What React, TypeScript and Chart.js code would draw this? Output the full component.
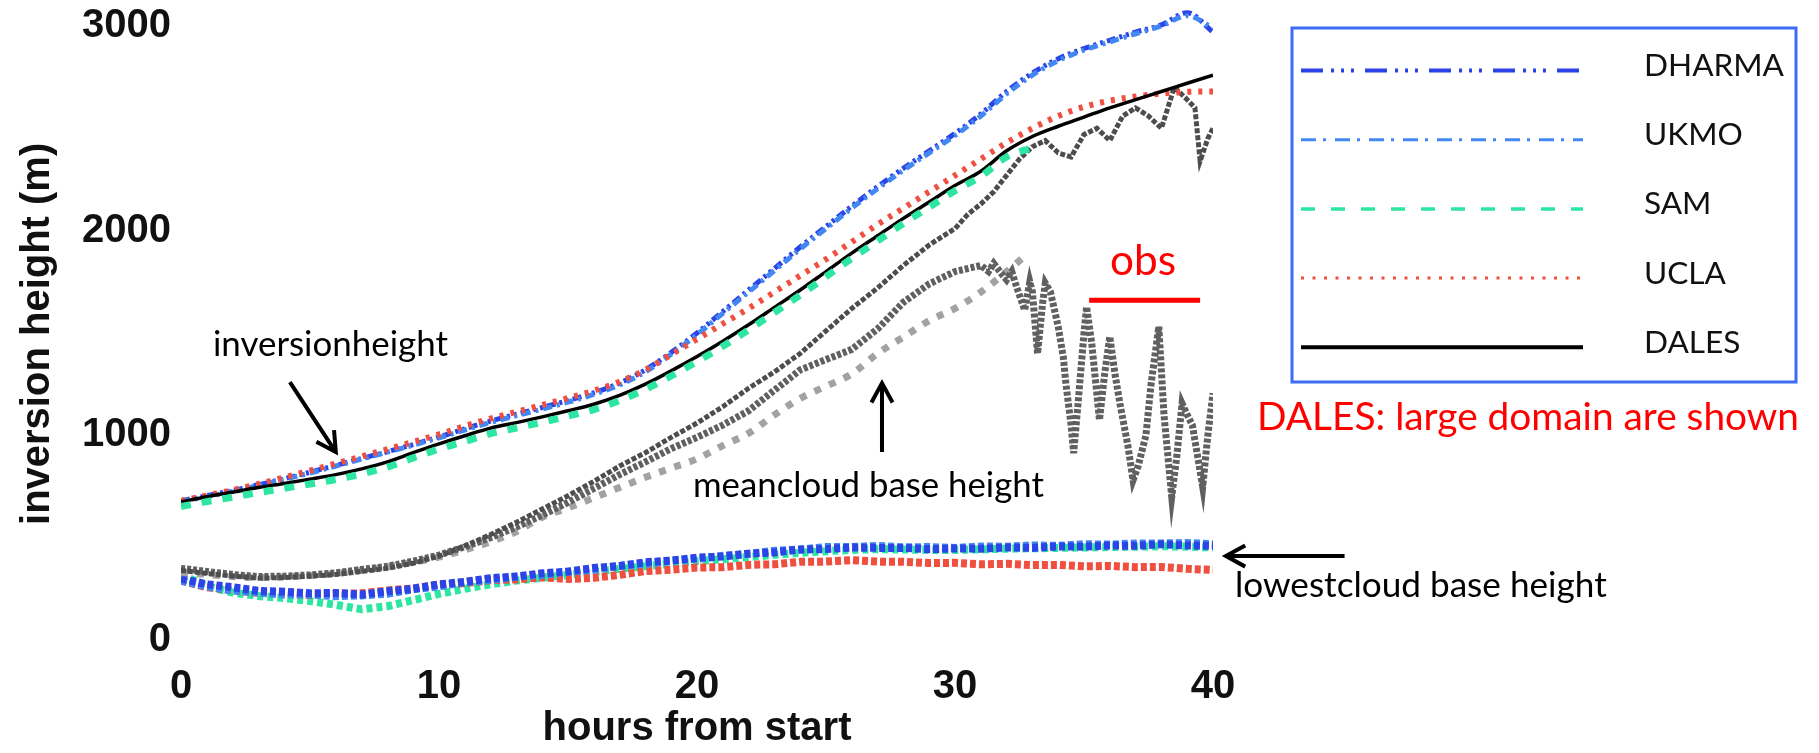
import React, { useEffect, useRef } from "react";
import { Chart, registerables } from "chart.js";

Chart.register(...registerables);

// ---------------- data ----------------
const HOURS = [0, 1, 2, 3, 4, 5, 6, 7, 8, 9, 10, 11, 12, 13, 14, 15, 16, 17, 18, 19, 20, 21, 22, 23, 24, 25, 26, 27, 28, 29, 30, 31, 32, 33, 34, 35, 36, 37, 38, 39, 40];
const X_TICKS = [0, 10, 20, 30, 40];
const Y_TICKS = [0, 1000, 2000, 3000];
const MODELS = ["DHARMA", "UKMO", "SAM", "UCLA", "DALES"];

// inversion height (m)
const INV_DHARMA = [680, 705, 730, 758, 788, 820, 853, 887, 920, 955, 992, 1032, 1070, 1103, 1136, 1170, 1208, 1255, 1320, 1405, 1500, 1605, 1710, 1815, 1920, 2020, 2120, 2215, 2305, 2390, 2475, 2570, 2680, 2770, 2840, 2890, 2930, 2970, 3005, 3065, 2970];
const INV_UKMO = [676, 700, 726, 755, 785, 816, 850, 884, 918, 952, 988, 1026, 1063, 1096, 1128, 1162, 1200, 1246, 1310, 1396, 1492, 1596, 1700, 1805, 1910, 2010, 2110, 2205, 2295, 2380, 2465, 2560, 2668, 2760, 2830, 2882, 2922, 2962, 3000, 3050, 2990];
const INV_SAM = [652, 676, 698, 720, 741, 762, 784, 811, 845, 890, 933, 970, 1008, 1036, 1064, 1094, 1126, 1170, 1225, 1290, 1360, 1435, 1515, 1600, 1685, 1775, 1865, 1950, 2035, 2115, 2195, 2265, 2360, 2405];
const INV_UCLA = [680, 706, 732, 762, 794, 828, 862, 897, 932, 968, 1005, 1045, 1082, 1115, 1148, 1182, 1218, 1262, 1320, 1395, 1470, 1545, 1620, 1700, 1780, 1860, 1945, 2030, 2110, 2190, 2270, 2350, 2430, 2500, 2560, 2605, 2635, 2655, 2670, 2678, 2680];
const INV_DALES = [675, 700, 722, 745, 765, 786, 808, 836, 870, 915, 958, 998, 1035, 1062, 1090, 1120, 1152, 1195, 1250, 1315, 1385, 1460, 1540, 1625, 1710, 1800, 1890, 1975, 2060, 2140, 2220, 2290, 2390, 2460, 2510, 2555, 2600, 2640, 2680, 2720, 2760];

// lowest cloud base height (m)
const LCB_DHARMA = [300, 272, 258, 240, 236, 228, 230, 222, 238, 250, 272, 284, 302, 310, 326, 334, 352, 362, 380, 388, 402, 408, 422, 428, 442, 444, 452, 450, 450, 444, 447, 446, 452, 450, 457, 456, 462, 460, 468, 462, 460];
const LCB_UKMO = [290, 262, 242, 232, 222, 222, 214, 218, 226, 248, 262, 282, 294, 310, 318, 334, 344, 362, 372, 388, 396, 412, 420, 436, 442, 454, 454, 460, 453, 454, 450, 457, 456, 462, 460, 468, 466, 472, 472, 474, 468];
const LCB_SAM = [320, 262, 232, 215, 205, 190, 172, 150, 165, 195, 225, 250, 272, 290, 304, 318, 333, 348, 360, 373, 385, 395, 405, 416, 426, 434, 440, 444, 442, 440, 440, 443, 446, 448, 450, 452, 454, 456, 458, 456, 452];
const LCB_UCLA = [290, 258, 244, 230, 228, 220, 226, 228, 242, 252, 270, 278, 292, 296, 306, 298, 304, 318, 337, 343, 354, 356, 367, 370, 382, 383, 390, 383, 382, 376, 377, 370, 372, 366, 367, 360, 362, 356, 357, 348, 342];

// mean cloud base height, DALES (m)
const MCB_A_HOURS = [0, 1, 2, 3, 4, 5, 6, 7, 8, 9, 10, 11, 12, 13, 14, 15, 16, 17, 18, 19, 20, 21, 22, 23, 24, 25, 26, 27, 28, 29, 30, 30.5, 31, 31.5, 32, 32.5, 33, 33.5, 34, 34.5, 35, 35.5, 36, 36.5, 37, 37.5, 38, 38.5, 39, 39.3, 39.5, 39.8, 40];
const MCB_A = [340, 325, 312, 302, 305, 312, 320, 335, 350, 375, 410, 460, 515, 575, 640, 705, 775, 850, 915, 990, 1060, 1140, 1230, 1310, 1400, 1510, 1620, 1720, 1830, 1930, 2010, 2080, 2130, 2190, 2270, 2350, 2410, 2440, 2380, 2360, 2470, 2500, 2440, 2560, 2600, 2560, 2500, 2700, 2640, 2600, 2340, 2450, 2500];
const MCB_B_HOURS = [0, 1, 2, 3, 4, 5, 6, 7, 8, 9, 10, 11, 12, 13, 14, 15, 16, 17, 18, 19, 20, 21, 22, 23, 24, 25, 26, 27, 28, 29, 30, 31, 31.3, 31.5, 31.8, 32, 32.2, 32.4, 32.7, 32.9, 33, 33.2, 33.4, 33.5, 33.7, 34, 34.2, 34.3, 34.5, 34.6, 34.8, 35, 35.1, 35.3, 35.6, 35.8, 36, 36.2, 36.4, 36.7, 36.9, 37.1, 37.4, 37.6, 37.9, 38.1, 38.4, 38.6, 38.8, 39, 39.2, 39.4, 39.6, 39.8, 40];
const MCB_B = [350, 335, 320, 310, 312, 318, 328, 345, 360, 385, 415, 455, 500, 552, 610, 672, 740, 808, 870, 935, 990, 1050, 1120, 1220, 1320, 1370, 1420, 1520, 1650, 1740, 1800, 1830, 1800, 1840, 1790, 1760, 1800, 1720, 1612, 1750, 1700, 1400, 1650, 1743, 1700, 1531, 1380, 1250, 1050, 913, 1200, 1500, 1628, 1450, 1075, 1300, 1482, 1300, 1150, 950, 781, 850, 1000, 1250, 1531, 1100, 700, 900, 1156, 1100, 1050, 900, 748, 1000, 1206];
const MCB_C_HOURS = [0, 1, 2, 3, 4, 5, 6, 7, 8, 9, 10, 11, 12, 13, 14, 15, 16, 17, 18, 19, 20, 21, 22, 23, 24, 25, 26, 27, 28, 29, 30, 31, 32, 32.7];
const MCB_C = [330, 320, 310, 305, 308, 315, 325, 340, 358, 380, 405, 440, 480, 530, 600, 645, 695, 745, 795, 840, 885, 950, 1010, 1100, 1180, 1240, 1300, 1400, 1480, 1560, 1620, 1700, 1800, 1875];

// observation bar
const OBS_HOURS = [35.2, 39.5];
const OBS_VALUE = [1660, 1660];

// ---------------- styles ----------------
const STYLE: Record<string, any> = {
  DHARMA: { color: "#2B44E8", dash: [9, 4, 3, 4, 3, 4], width: 5, legendDash: [22, 8, 3, 7, 3, 7, 3, 11], legendWidth: 4 },
  UKMO: { color: "#4287F2", dash: [9, 5, 3, 5], width: 5, legendDash: [15, 7, 3, 9], legendWidth: 3 },
  SAM: { color: "#2DE6A2", dash: [10, 11], width: 7, legendDash: [14, 16], legendWidth: 3.5 },
  UCLA: { color: "#F04E3E", dash: [4, 7], width: 6, legendDash: [3, 8.5], legendWidth: 3 },
  DALES: { color: "#000000", dash: [], width: 3.5, legendDash: [], legendWidth: 4 },
};

const AXIS_FAMILY = "'Liberation Sans', Arial, Helvetica, sans-serif";
const TEXT_FAMILY = "Lato, 'Open Sans', sans-serif";

function pts(hours: number[], values: number[]) {
  return values.map((v, i) => ({ x: hours[i], y: v }));
}

function fitFont(ctx: CanvasRenderingContext2D, text: string, width: number) {
  ctx.font = `normal 100px ${TEXT_FAMILY}`;
  const w = ctx.measureText(text).width;
  const size = (100 * width) / w;
  ctx.font = `normal ${size}px ${TEXT_FAMILY}`;
  return size;
}

function arrow(ctx: CanvasRenderingContext2D, x1: number, y1: number, x2: number, y2: number) {
  const ang = Math.atan2(y2 - y1, x2 - x1);
  const head = 22;
  const spread = 0.5;
  ctx.beginPath();
  ctx.moveTo(x1, y1);
  ctx.lineTo(x2, y2);
  ctx.moveTo(x2 - head * Math.cos(ang - spread), y2 - head * Math.sin(ang - spread));
  ctx.lineTo(x2, y2);
  ctx.lineTo(x2 - head * Math.cos(ang + spread), y2 - head * Math.sin(ang + spread));
  ctx.stroke();
}

const NOTES = [
  { text: "inversionheight", x: 213, y: 356, w: 235, color: "#000000" },
  { text: "meancloud base height", x: 693, y: 497, w: 351, color: "#000000" },
  { text: "lowestcloud base height", x: 1235, y: 597, w: 372, color: "#000000" },
  { text: "obs", x: 1110, y: 275, w: 66, color: "#FF0000" },
  { text: "DALES: large domain are shown", x: 1257, y: 430, w: 542, color: "#FF0000" },
];

const ARROWS = [
  { from: [4.22, 1260], to: [6.0, 918] },
  { from: [27.17, 918], to: [27.17, 1255] },
  { from: [45.1, 410], to: [40.5, 410] },
];

const annotationPlugin = {
  id: "annotations",
  afterDraw(chart: any) {
    const ctx: CanvasRenderingContext2D = chart.ctx;
    const xs = chart.scales.x;
    const ys = chart.scales.y;
    ctx.save();

    // obs bar
    ctx.strokeStyle = "#FF0000";
    ctx.lineWidth = 5;
    ctx.setLineDash([]);
    ctx.beginPath();
    ctx.moveTo(xs.getPixelForValue(OBS_HOURS[0]), ys.getPixelForValue(OBS_VALUE[0]));
    ctx.lineTo(xs.getPixelForValue(OBS_HOURS[1]), ys.getPixelForValue(OBS_VALUE[1]));
    ctx.stroke();

    // arrows
    ctx.strokeStyle = "#000000";
    ctx.lineWidth = 4;
    ctx.lineCap = "butt";
    for (const a of ARROWS) {
      arrow(
        ctx,
        xs.getPixelForValue(a.from[0]),
        ys.getPixelForValue(a.from[1]),
        xs.getPixelForValue(a.to[0]),
        ys.getPixelForValue(a.to[1])
      );
    }

    // notes
    ctx.textBaseline = "alphabetic";
    ctx.textAlign = "left";
    for (const n of NOTES) {
      fitFont(ctx, n.text, n.w);
      ctx.fillStyle = n.color;
      ctx.fillText(n.text, n.x, n.y);
    }

    // legend box
    ctx.strokeStyle = "#3D6DF2";
    ctx.lineWidth = 3;
    ctx.strokeRect(1292, 28, 504, 354);
    const size = fitFont(ctx, "DHARMA", 140);
    MODELS.forEach((m, i) => {
      const base = 76 + i * 69.2;
      const st = STYLE[m];
      ctx.strokeStyle = st.color;
      ctx.lineWidth = st.legendWidth;
      ctx.setLineDash(st.legendDash);
      ctx.beginPath();
      ctx.moveTo(1301, base - 5.5);
      ctx.lineTo(1583, base - 5.5);
      ctx.stroke();
      ctx.setLineDash([]);
      ctx.font = `normal ${size}px ${TEXT_FAMILY}`;
      ctx.fillStyle = "#111111";
      ctx.fillText(m, 1644, base);
    });
    ctx.restore();
  },
};

export default function App() {
  const canvasRef = useRef<HTMLCanvasElement | null>(null);

  useEffect(() => {
    const canvas = canvasRef.current;
    if (!canvas) return;

    const line = (label: string, data: any[], color: string, width: number, dash: number[], smooth = false) => ({
      label,
      data,
      borderColor: color,
      backgroundColor: color,
      borderWidth: width,
      borderDash: dash,
      pointRadius: 0,
      fill: false,
      tension: smooth ? 0.4 : 0,
      cubicInterpolationMode: smooth ? "monotone" : "default",
    });

    const datasets = [
      line("SAM inversion", pts(HOURS, INV_SAM), STYLE.SAM.color, STYLE.SAM.width, STYLE.SAM.dash, true),
      line("DALES inversion", pts(HOURS, INV_DALES), STYLE.DALES.color, STYLE.DALES.width, STYLE.DALES.dash, true),
      line("UCLA inversion", pts(HOURS, INV_UCLA), STYLE.UCLA.color, STYLE.UCLA.width, STYLE.UCLA.dash, true),
      line("UKMO inversion", pts(HOURS, INV_UKMO), STYLE.UKMO.color, STYLE.UKMO.width, STYLE.UKMO.dash, true),
      line("DHARMA inversion", pts(HOURS, INV_DHARMA), STYLE.DHARMA.color, STYLE.DHARMA.width, STYLE.DHARMA.dash, true),
      line("DALES mean cloud base A", pts(MCB_A_HOURS, MCB_A), "#4d4d4d", 5, [5, 2]),
      line("DALES mean cloud base B", pts(MCB_B_HOURS, MCB_B), "#606060", 7, [4, 2]),
      line("DALES mean cloud base C", pts(MCB_C_HOURS, MCB_C), "#a2a2a2", 7, [7, 9], true),
      line("DHARMA lowest cloud base", pts(HOURS, LCB_DHARMA), STYLE.DHARMA.color, 8, [6, 3]),
      line("UKMO lowest cloud base", pts(HOURS, LCB_UKMO), STYLE.UKMO.color, 8, [6, 3]),
      line("UCLA lowest cloud base", pts(HOURS, LCB_UCLA), STYLE.UCLA.color, 8, [6, 3]),
      line("SAM lowest cloud base", pts(HOURS, LCB_SAM), STYLE.SAM.color, 8, [6, 4]),
    ];

    const axisFont = { family: AXIS_FAMILY, size: 40, weight: "bold" as const };

    const chart = new Chart(canvas, {
      type: "line",
      data: { datasets },
      options: {
        animation: false,
        responsive: true,
        maintainAspectRatio: false,
        devicePixelRatio: 1,
        layout: { padding: { top: 5.5, right: 606, bottom: 0, left: 0 } },
        plugins: { legend: { display: false }, tooltip: { enabled: false } },
        scales: {
          x: {
            type: "linear",
            min: 0,
            max: 40,
            grid: { display: false, drawTicks: false },
            border: { display: false },
            afterBuildTicks: (s: any) => {
              s.ticks = X_TICKS.map((v) => ({ value: v }));
            },
            afterFit: (s: any) => {
              s.height = 113;
              s.paddingLeft = 0;
              s.paddingRight = 0;
            },
            ticks: {
              font: axisFont,
              color: "#111111",
              padding: 23,
              maxRotation: 0,
              autoSkip: false,
              callback: (v: any) => String(v),
            },
            title: { display: true, text: "hours from start", font: axisFont, color: "#111111", padding: 0 },
          },
          y: {
            type: "linear",
            min: 0,
            max: 3100,
            grid: { display: false, drawTicks: false },
            border: { display: false },
            afterBuildTicks: (s: any) => {
              s.ticks = Y_TICKS.map((v) => ({ value: v }));
            },
            afterFit: (s: any) => {
              s.width = 181;
              s.paddingTop = 0;
              s.paddingBottom = 0;
            },
            ticks: {
              font: axisFont,
              color: "#111111",
              padding: 10,
              autoSkip: false,
              callback: (v: any) => String(v),
            },
            title: {
              display: true,
              text: "inversion height (m)  ",
              font: axisFont,
              color: "#111111",
              padding: { top: 14, bottom: 0 },
            },
          },
        },
      },
      plugins: [annotationPlugin],
    } as any);

    return () => chart.destroy();
  }, []);

  return (
    <div style={{ position: "fixed", left: 0, top: 0, width: 1819, height: 753, background: "#ffffff" }}>
      <canvas ref={canvasRef} />
    </div>
  );
}
